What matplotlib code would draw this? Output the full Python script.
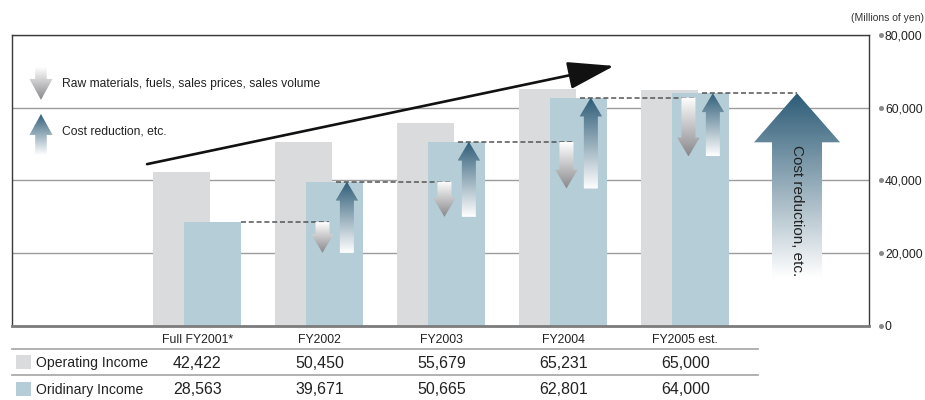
import matplotlib
matplotlib.use('Agg')
import numpy as np
import matplotlib.pyplot as plt
from matplotlib.patches import Polygon, Rectangle
from matplotlib.lines import Line2D
from matplotlib.colors import LinearSegmentedColormap
from matplotlib.transforms import blended_transform_factory

plt.rcParams['font.family'] = ['Liberation Sans', 'DejaVu Sans']

# DATA

years        = ['Full FY2001*', 'FY2002', 'FY2003', 'FY2004', 'FY2005 est.']
operating    = [42422, 50450, 55679, 65231, 65000]
ordinary     = [28563, 39671, 50665, 62801, 64000]
# low point reached by the cost-side drop before the recovery, per year (FY2002 on)
cost_dips    = [20100, 30000, 37800, 46600]
total_base   = 13200
yticks       = [0, 20000, 40000, 60000, 80000]

row_names    = ['Operating Income', 'Oridinary Income']

# STYLE

C_OPER   = '#dadbdd'
C_ORD    = '#b5cdd7'
C_TEXT   = '#222222'
up_cmap   = LinearSegmentedColormap.from_list('up',   ['#ffffff', '#2d5c77'])
down_cmap = LinearSegmentedColormap.from_list('down', ['#88888c', '#ffffff'])

W, H = 925, 400
fig = plt.figure(figsize=(W / 100, H / 100), dpi=100)
ax = fig.add_axes([12 / W, 74 / H, 857 / W, 291 / H])

x = np.arange(len(years))
bar_w  = 0.467
bar_dx = 0.127

ax.bar(x - bar_dx, operating, bar_w, color=C_OPER, zorder=2)
ax.bar(x + bar_dx, ordinary,  bar_w, color=C_ORD,  zorder=2)


def grad_arrow(ax, xc, y_tail, y_tip, shaft_w, head_w, head_len, cmap, trans=None, z=4):
    trans = ax.transData if trans is None else trans
    d = 1 if y_tip > y_tail else -1
    y_base = y_tip - d * head_len
    verts = [(xc - shaft_w / 2, y_tail), (xc - shaft_w / 2, y_base), (xc - head_w / 2, y_base),
             (xc, y_tip), (xc + head_w / 2, y_base), (xc + shaft_w / 2, y_base),
             (xc + shaft_w / 2, y_tail)]
    poly = Polygon(verts, closed=True, facecolor='none', edgecolor='none', transform=trans)
    ax.add_patch(poly)
    grad = np.linspace(0, 1, 256).reshape(-1, 1)
    im = ax.imshow(grad, extent=[xc - head_w / 2, xc + head_w / 2, min(y_tail, y_tip), max(y_tail, y_tip)],
                   origin='lower', aspect='auto', cmap=cmap, transform=trans, zorder=z,
                   interpolation='bilinear')
    im.set_clip_path(poly)


# waterfall arrows between years
down_dx, up_dx = 0.025, 0.225
shaft_w, head_w, head_len = 0.115, 0.185, 5200
dash = dict(color='#555555', lw=1.1, ls=(0, (3.3, 1.8)), zorder=3)

for i in range(1, len(years)):
    grad_arrow(ax, i + down_dx, ordinary[i - 1], cost_dips[i - 1], shaft_w, head_w, head_len, down_cmap)
    grad_arrow(ax, i + up_dx, cost_dips[i - 1], ordinary[i], shaft_w, head_w, head_len, up_cmap)
    x0 = (i - 1 + bar_dx + bar_w / 2) if i == 1 else (i - 1 + up_dx - head_w / 2)
    ax.plot([x0, i + down_dx + shaft_w / 2], [ordinary[i - 1]] * 2, **dash)

# overall cost reduction arrow
big_x = 4.915
grad_arrow(ax, big_x, total_base, ordinary[-1], 0.41, 0.705, 13500, up_cmap)
ax.plot([len(years) - 1 + up_dx - head_w / 2, big_x], [ordinary[-1]] * 2, **dash)
ax.text(big_x, 31600, 'Cost reduction, etc.', rotation=270, ha='center', va='center',
        fontsize=11, color=C_TEXT, zorder=6)

# growth trend arrow
ax.annotate('', xy=(3.415, 71500), xytext=(-0.413, 44500),
            arrowprops=dict(arrowstyle='-|>,head_length=2.9,head_width=0.86', mutation_scale=10,
                            lw=1.9, color='#111111', shrinkA=0, shrinkB=0), zorder=6)

# legend inside plot
grad_arrow(ax, 0.0338, 0.890, 0.777, 0.0135, 0.027, 0.072, down_cmap, trans=ax.transAxes)
grad_arrow(ax, 0.0338, 0.5876, 0.7285, 0.0135, 0.027, 0.072, up_cmap, trans=ax.transAxes)
ax.text(0.058, 0.8316, 'Raw materials, fuels, sales prices, sales volume', transform=ax.transAxes,
        fontsize=8.7, va='center', color=C_TEXT)
ax.text(0.058, 0.6667, 'Cost reduction, etc.', transform=ax.transAxes,
        fontsize=8.7, va='center', color=C_TEXT)

# AXES

ax.set_xlim(-1.52, 5.505)
ax.set_ylim(0, 80000)
ax.set_xticks(x)
ax.set_xticklabels(years, fontsize=8.8, color=C_TEXT)
ax.tick_params(axis='x', length=0, pad=5.5)
ax.yaxis.tick_right()
ax.set_yticks(yticks)
ax.set_yticklabels([f'{v:,}' for v in yticks], fontsize=8.7, color=C_TEXT)
ax.tick_params(axis='y', length=0, pad=11.5)
ax.plot([1.014] * len(yticks), yticks, transform=ax.get_yaxis_transform(), ls='', marker='o',
        ms=2.6, color='#8a8a8a', clip_on=False)
ax.grid(axis='y', color='#9c9c9c', lw=1)
ax.set_axisbelow(True)
for side in ['left', 'top', 'right']:
    ax.spines[side].set_color('#3a3a3a')
    ax.spines[side].set_linewidth(1)
ax.spines['bottom'].set_color('#7c7c7c')
ax.spines['bottom'].set_linewidth(2)

fig.text(924 / W, 1 - 18 / H, '(Millions of yen)', ha='right', va='center', fontsize=7.5, color='#333333')

# DATA TABLE

tr = blended_transform_factory(ax.transData, fig.transFigure)
row_y = [1 - 363 / H, 1 - 390 / H]
swatch_top = [355, 382]
for vals, y, name, col, top in zip([operating, ordinary], row_y, row_names, [C_OPER, C_ORD], swatch_top):
    fig.add_artist(Rectangle((16 / W, 1 - (top + 14) / H), 15 / W, 14 / H, transform=fig.transFigure,
                             facecolor=col, edgecolor='none'))
    fig.text(36 / W, y, name, ha='left', va='center', fontsize=10.1, color=C_TEXT)
    for xi, v in zip(x, vals):
        ax.text(xi, y, f'{v:,}', transform=tr, ha='center', va='center', fontsize=11.5, color=C_TEXT)

for yl in [349, 375]:
    fig.add_artist(Line2D([12 / W, 758 / W], [1 - yl / H] * 2, transform=fig.transFigure,
                          color='#ababab', lw=1.3))

fig.savefig('out.png', dpi=100)
plt.close(fig)
